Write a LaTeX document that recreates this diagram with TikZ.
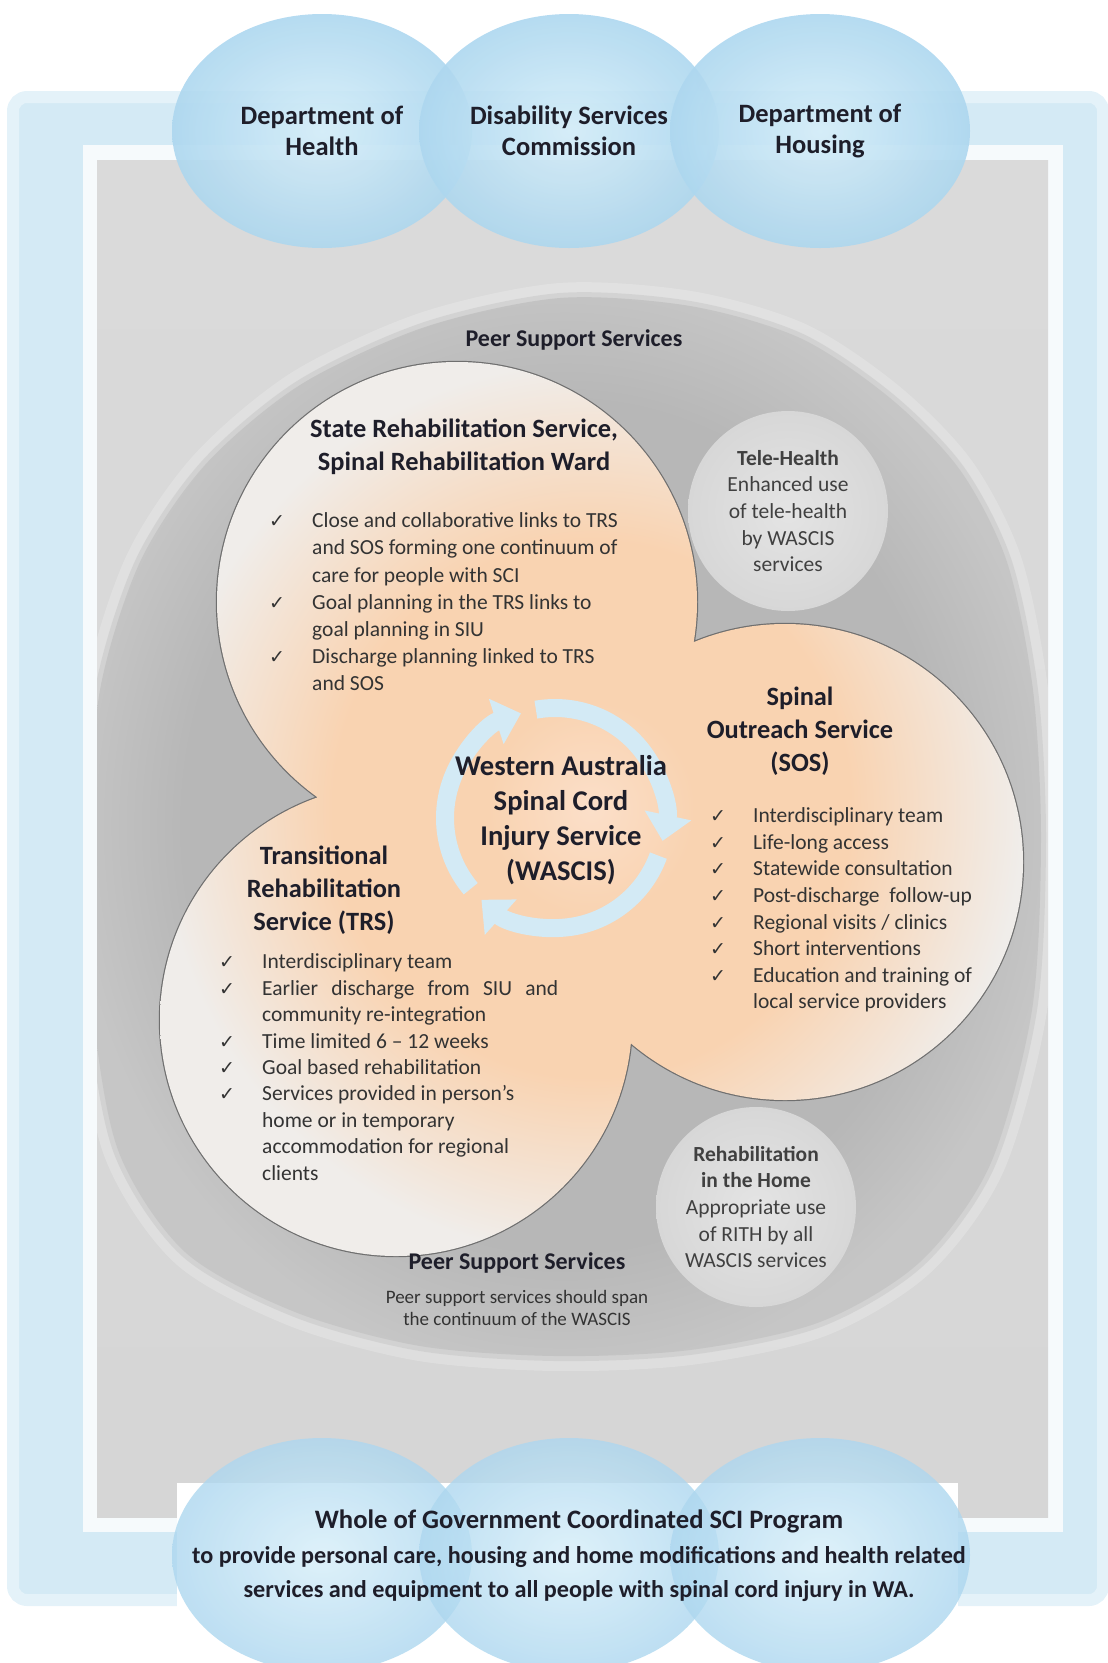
\documentclass[tikz,border=0pt]{standalone}
\usepackage{fontspec}
\setmainfont{Carlito}
\newfontfamily\tickfont{DejaVu Sans}
\usepackage{xcolor}
\usepackage{tikz}
\usetikzlibrary{shapes.geometric, arrows.meta, positioning}

\definecolor{frameblue}{HTML}{D4EAF5}
\definecolor{framesoft}{HTML}{E4F2F9}
\definecolor{stripwhite}{HTML}{F6FAFC}
\definecolor{paneltop}{HTML}{DADADA}
\definecolor{panelmid}{HTML}{E4E4E4}
\definecolor{panelbottom}{HTML}{D6D6D6}
\definecolor{ringdark}{HTML}{B7B7B7}
\definecolor{ringedge}{HTML}{C6C6C6}
\definecolor{bubbleblue}{HTML}{ADD7EF}
\definecolor{bubblelight}{HTML}{D6EEF9}
\definecolor{inktext}{HTML}{1E1E2A}
\definecolor{bodytext}{HTML}{333333}
\definecolor{satlight}{HTML}{E4E4E4}
\definecolor{satdark}{HTML}{D7D7D7}
\definecolor{satext}{HTML}{404040}
\definecolor{peachdeep}{HTML}{F9D3B1}
\definecolor{peachmid}{HTML}{FBDFC9}
\definecolor{peachpale}{HTML}{F0EDEA}
\definecolor{rimgray}{HTML}{6F6F6F}
\definecolor{arrowblue}{HTML}{D3EAF5}

\pgfdeclareradialshading{ringglow}{\pgfpoint{0bp}{0bp}}{color(0bp)=(ringdark); color(20bp)=(ringdark); color(26bp)=(ringedge); color(50bp)=(ringedge)}
\pgfdeclareradialshading{peachglow}{\pgfpoint{0bp}{0bp}}{color(0bp)=(peachmid); color(6bp)=(peachdeep); color(15bp)=(peachdeep); color(25bp)=(peachpale); color(50bp)=(peachpale)}

\newcommand{\chk}{\makebox[43pt][l]{\tickfont\fontsize{19}{19}\selectfont ✓}}
\newcommand{\chkpad}{\hspace*{43pt}}

\tikzstyle{bubble} = [ellipse, minimum width=300pt, minimum height=234pt, inner color=bubblelight, outer color=bubbleblue, fill opacity=0.9, text opacity=1, text=inktext, align=center, font=\fontsize{26.5}{31.5}\selectfont\bfseries]
\tikzstyle{satellite} = [circle, minimum size=200pt, inner color=satlight, outer color=satdark, text=satext, align=center, font=\fontsize{21.5}{26.6}\selectfont]
\tikzstyle{heading} = [align=center, inner sep=0pt, text=inktext, font=\fontsize{26.4}{33}\selectfont\bfseries]
\tikzstyle{ticklist} = [anchor=west, align=left, inner sep=0pt, text=bodytext, font=\fontsize{21.5}{26.6}\selectfont]
\tikzstyle{peer} = [inner sep=0pt, text=inktext, font=\fontsize{24}{29}\selectfont\bfseries]
\tikzstyle{cyclearrow} = [line width=18pt, draw=arrowblue, -{Triangle[length=26pt, width=46pt]}]

\begin{document}
\begin{tikzpicture}[x=1pt, y=-1pt, node distance=45pt]
\useasboundingbox (0,0) rectangle (1108,1663);

% frame and grey panel
\fill[frameblue, rounded corners=14pt] (13,97) rectangle (1103,1600);
\draw[framesoft, line width=12pt, rounded corners=14pt] (13,97) rectangle (1103,1600);
\fill[stripwhite] (83,145) rectangle (1063,1532);
\shade[top color=paneltop, middle color=panelmid, bottom color=panelbottom] (97,160) rectangle (1048,1517);

% peer support ring
\begin{scope}
\clip (97,160) rectangle (1048,1517);
\shade[shading=ringglow, preaction={draw=white, line width=30pt, draw opacity=0.2}, preaction={draw=ringedge, line width=10pt, draw opacity=0.5}]
  plot[smooth cycle] coordinates {(560,298) (690,306) (800,338) (890,398) (960,470) (1007,562) (1033,690) (1041,840) (1032,1010) (990,1165) (920,1262) (820,1322) (690,1350) (555,1356) (420,1346) (295,1312) (185,1252) (118,1150) (92,1000) (90,840) (100,690) (140,562) (205,465) (300,385) (425,327)};
\end{scope}

\node (tele) [satellite] at (788,511) {{\bfseries Tele-Health}\\Enhanced use\\of tele-health\\by WASCIS\\services};
\node (rith) [satellite] at (756,1207) {{\bfseries Rehabilitation}\\{\bfseries in the Home}\\Appropriate use\\of RITH by all\\WASCIS services};

% the three services
\coordinate (srsc) at (457,602);
\coordinate (sosc) at (785,862);
\coordinate (trsc) at (396,1020);
\coordinate (hub) at (555,818);
\shade[shading=peachglow, preaction={draw=rimgray, line width=2.4pt}]
  (srsc) circle (240pt) (sosc) circle (238pt) (trsc) circle (236pt) (544,830) circle (30pt);

\draw[cyclearrow] ([shift={(100:110pt)}]hub) arc[start angle=100, end angle=-12, radius=110pt];
\draw[cyclearrow] ([shift={(-20:110pt)}]hub) arc[start angle=-20, end angle=-132, radius=110pt];
\draw[cyclearrow] ([shift={(220:110pt)}]hub) arc[start angle=220, end angle=108, radius=110pt];

\node (wascis) [heading, font=\fontsize{28.6}{35}\selectfont\bfseries] at (561,820) {Western Australia\\Spinal Cord\\Injury Service\\(WASCIS)};

\node (srs) [heading] at (464,447) {State Rehabilitation Service,\\Spinal Rehabilitation Ward};
\node (srslist) [ticklist, font=\fontsize{21.5}{27.2}\selectfont] at (269,602) {\chk Close and collaborative links to TRS\\\chkpad and SOS forming one continuum of\\\chkpad care for people with SCI\\\chk Goal planning in the TRS links to\\\chkpad goal planning in SIU\\\chk Discharge planning linked to TRS\\\chkpad and SOS};

\node (sos) [heading] at (800,731) {Spinal\\Outreach Service\\(SOS)};
\node (soslist) [ticklist] at (710,910) {\chk Interdisciplinary team\\\chk Life-long access\\\chk Statewide consultation\\\chk Post-discharge\ \ follow-up\\\chk Regional visits / clinics\\\chk Short interventions\\\chk Education and training of\\\chkpad local service providers};

\node (trs) [heading] at (324,890) {Transitional\\Rehabilitation\\Service (TRS)};
\node (trslist) [ticklist, font=\fontsize{21.5}{26.4}\selectfont] at (219,1067) {\chk Interdisciplinary team\\\chk \makebox[296pt][s]{Earlier discharge from SIU and}\\\chkpad community re-integration\\\chk Time limited 6 – 12 weeks\\\chk Goal based rehabilitation\\\chk Services provided in person’s\\\chkpad home or in temporary\\\chkpad accommodation for regional\\\chkpad clients};

\node (peertop) [peer] at (574,340) {Peer Support Services};
\node (peerbottom) [peer] at (517,1263) {Peer Support Services};
\node (peernote) [below of=peerbottom, align=center, inner sep=0pt, text=bodytext, font=\fontsize{19}{22.7}\selectfont] {Peer support services should span\\the continuum of the WASCIS};

% agencies along the top
\node (health) [bubble] at (322,131) {Department of\\Health};
\node (disability) [bubble, right of=health, node distance=247pt] {Disability Services\\Commission};
\node (housing) [bubble, right of=disability, node distance=251pt] {Department of\\Housing};

% programme box along the bottom
\fill[white] (177,1483) rectangle (958,1663);
\node (govleft) [bubble, fill opacity=0.8] at (322,1555) {};
\node (govmid) [bubble, fill opacity=0.8, right of=govleft, node distance=247pt] {};
\node (govright) [bubble, fill opacity=0.8, right of=govmid, node distance=251pt] {};
\node (wholegov) [align=center, text=inktext, font=\fontsize{26.6}{34.5}\selectfont\bfseries] at (579,1556) {Whole of Government Coordinated SCI Program\\{\fontsize{24.2}{34.5}\selectfont to provide personal care, housing and home modifications and health related}\\{\fontsize{24.2}{34.5}\selectfont services and equipment to all people with spinal cord injury in WA.}};
\end{tikzpicture}
\end{document}
